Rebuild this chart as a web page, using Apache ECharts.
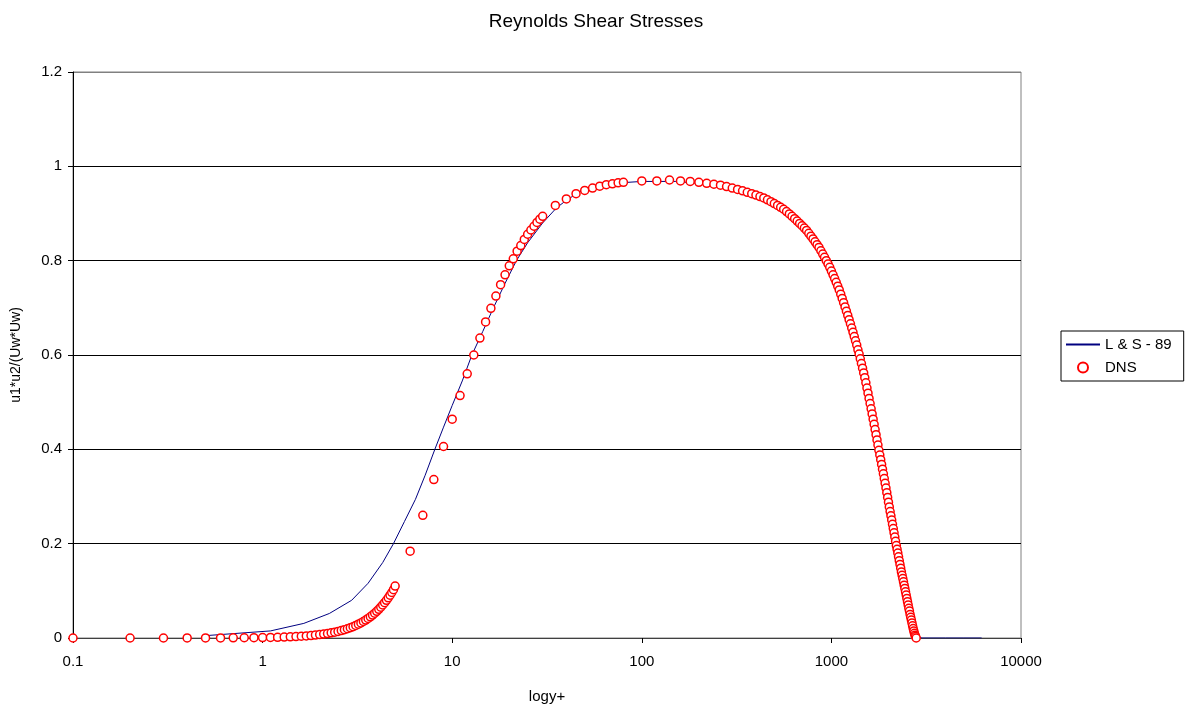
<!DOCTYPE html>
<html>
<head>
<meta charset="utf-8">
<script src="https://cdn.jsdelivr.net/npm/echarts@6/dist/echarts.min.js"></script>
<style>
  html, body { margin: 0; padding: 0; background: #fff; }
  #main { width: 1192px; height: 713px; }
</style>
</head>
<body>
<div id="main"></div>
<script>
// DNS points (y+ and -u1u2 normalised)
const dnsX = [
  0.1, 0.2, 0.3, 0.4, 0.5, 0.6, 0.7, 0.8, 0.9, 1.0,
  1.1, 1.2, 1.3, 1.4, 1.5, 1.6, 1.7, 1.8, 1.9, 2.0,
  2.1, 2.2, 2.3, 2.4, 2.5, 2.6, 2.7, 2.8, 2.9, 3.0,
  3.1, 3.2, 3.3, 3.4, 3.5, 3.6, 3.7, 3.8, 3.9, 4.0,
  4.1, 4.2, 4.3, 4.4, 4.5, 4.6, 4.7, 4.8, 4.9, 5.0,
  6, 7, 8, 9, 10, 11, 12, 13, 14, 15, 16, 17, 18, 19, 20,
  21, 22, 23, 24, 25, 26, 27, 28, 29, 30,
  35, 40, 45, 50, 55, 60, 65, 70, 75, 80,
  100, 120, 140, 160, 180, 200, 220, 240, 260, 280,
  300, 320, 340, 360, 380, 400, 420, 440, 460, 480,
  500, 520, 540, 560, 580, 600, 620, 640, 660, 680,
  700, 720, 740, 760, 780, 800, 820, 840, 860, 880,
  900, 920, 940, 960, 980, 1000, 1020, 1040, 1060, 1080,
  1100, 1120, 1140, 1160, 1180, 1200, 1220, 1240, 1260, 1280,
  1300, 1320, 1340, 1360, 1380, 1400, 1420, 1440, 1460, 1480,
  1500, 1520, 1540, 1560, 1580, 1600, 1620, 1640, 1660, 1680,
  1700, 1720, 1740, 1760, 1780, 1800, 1820, 1840, 1860, 1880,
  1900, 1920, 1940, 1960, 1980, 2000, 2020, 2040, 2060, 2080,
  2100, 2120, 2140, 2160, 2180, 2200, 2220, 2240, 2260, 2280,
  2300, 2320, 2340, 2360, 2380, 2400, 2420, 2440, 2460, 2480,
  2500, 2520, 2540, 2560, 2580, 2600, 2620, 2640, 2660, 2680,
  2700, 2720, 2740, 2760, 2780, 2800
];
const dnsY = [
  0.0000, 0.0000, 0.0000, 0.0001, 0.0001, 0.0002, 0.0003, 0.0005, 0.0007, 0.0009,
  0.0012, 0.0015, 0.0020, 0.0025, 0.0030, 0.0037, 0.0044, 0.0052, 0.0061, 0.0072,
  0.0083, 0.0095, 0.0109, 0.0124, 0.0140, 0.0157, 0.0176, 0.0196, 0.0218, 0.0241,
  0.0266, 0.0292, 0.0320, 0.0350, 0.0381, 0.0414, 0.0449, 0.0486, 0.0525, 0.0566,
  0.0609, 0.0654, 0.0701, 0.0750, 0.0800, 0.0853, 0.0908, 0.0965, 0.1024, 0.1100,
  0.184, 0.260, 0.336, 0.406, 0.464, 0.514, 0.560, 0.600, 0.636, 0.670, 0.699, 0.725, 0.749, 0.770, 0.789,
  0.804, 0.820, 0.832, 0.845, 0.856, 0.865, 0.873, 0.881, 0.888, 0.894,
  0.917, 0.931, 0.942, 0.949, 0.954, 0.958, 0.961, 0.963, 0.965, 0.966,
  0.969, 0.969, 0.971, 0.969, 0.968, 0.966, 0.964, 0.962, 0.960, 0.957,
  0.954, 0.951, 0.948, 0.945, 0.942, 0.939, 0.936, 0.933, 0.929, 0.925,
  0.921, 0.917, 0.913, 0.909, 0.904, 0.899, 0.894, 0.889, 0.884, 0.879,
  0.874, 0.869, 0.864, 0.858, 0.852, 0.846, 0.840, 0.834, 0.828, 0.821,
  0.814, 0.807, 0.800, 0.793, 0.786, 0.778, 0.770, 0.762, 0.754, 0.746,
  0.738, 0.729, 0.720, 0.711, 0.702, 0.693, 0.684, 0.675, 0.666, 0.657,
  0.648, 0.639, 0.630, 0.621, 0.611, 0.602, 0.592, 0.582, 0.572, 0.562,
  0.552, 0.541, 0.530, 0.519, 0.508, 0.497, 0.486, 0.475, 0.464, 0.453,
  0.442, 0.431, 0.420, 0.409, 0.398, 0.388, 0.378, 0.368, 0.358, 0.348,
  0.338, 0.328, 0.318, 0.308, 0.298, 0.288, 0.278, 0.268, 0.259, 0.250,
  0.241, 0.232, 0.223, 0.214, 0.205, 0.196, 0.188, 0.180, 0.172, 0.164,
  0.156, 0.148, 0.140, 0.133, 0.126, 0.119, 0.112, 0.105, 0.098, 0.091,
  0.084, 0.077, 0.070, 0.063, 0.057, 0.050, 0.044, 0.038, 0.032, 0.026,
  0.020, 0.015, 0.010, 0.006, 0.003, 0.000
];

// L & S - 89 curve
const lsX = [
  0.5, 1.1, 1.65, 2.25, 2.95, 3.6, 4.3, 4.9, 5.6, 6.4,
  7.2, 8.1, 9.0, 10, 11.3, 12.7, 14.5, 16.5, 19, 21.8,
  25, 30, 35.5, 40, 47, 55, 70, 100, 150, 200,
  300, 400, 500, 600, 700, 800, 900, 1000, 1100, 1200,
  1300, 1400, 1500, 1600, 1700, 1800, 1900, 2000, 2100, 2200,
  2300, 2400, 2500, 2600, 2700, 2800, 3000, 4000, 5000, 6200
];
const lsY = [
  0.005, 0.015, 0.031, 0.052, 0.080, 0.116, 0.160, 0.200, 0.247, 0.294,
  0.345, 0.400, 0.447, 0.493, 0.545, 0.600, 0.650, 0.700, 0.752, 0.800,
  0.838, 0.880, 0.912, 0.928, 0.946, 0.955, 0.964, 0.968, 0.968, 0.964,
  0.950, 0.934, 0.916, 0.895, 0.872, 0.847, 0.818, 0.785, 0.748, 0.707,
  0.662, 0.613, 0.562, 0.508, 0.452, 0.396, 0.342, 0.291, 0.243, 0.199,
  0.158, 0.120, 0.086, 0.055, 0.028, 0.005, 0.0, 0.0, 0.0, 0.0
];

const seriesNames = ['L & S - 89', 'DNS'];
const font = 'Liberation Sans, Arial, sans-serif';

const chart = echarts.init(document.getElementById('main'));

const option = {
  animation: false,
  backgroundColor: '#fff',
  textStyle: { fontFamily: font },
  title: {
    text: 'Reynolds Shear Stresses',
    left: 'center',
    top: 7,
    textStyle: { fontFamily: font, fontSize: 19, fontWeight: 'normal', color: '#000' }
  },
  legend: {
    orient: 'vertical',
    left: 1061,
    top: 331,
    padding: [6, 12, 6, 4],
    itemGap: 8,
    itemWidth: 34,
    itemHeight: 10,
    borderColor: '#000',
    borderWidth: 1,
    borderRadius: 0,
    textStyle: { fontFamily: font, fontSize: 15, color: '#000' },
    data: [
      { name: seriesNames[0], itemStyle: { opacity: 0 } },
      { name: seriesNames[1] }
    ]
  },
  grid: {
    left: 73,
    right: 171,
    top: 72,
    bottom: 75,
    show: true,
    borderColor: '#808080',
    borderWidth: 1
  },
  xAxis: {
    type: 'log',
    logBase: 10,
    min: 0.1,
    max: 10000,
    name: 'logy+',
    nameLocation: 'middle',
    nameGap: 51,
    nameTextStyle: { fontFamily: font, fontSize: 15, color: '#000' },
    axisLine: { onZero: false, lineStyle: { color: '#404040', width: 1 } },
    axisTick: { show: true, length: 5, lineStyle: { color: '#000' } },
    axisLabel: {
      fontFamily: font, fontSize: 15, color: '#000', margin: 16,
      formatter: function (v) { return String(+v.toPrecision(6)); }
    },
    splitLine: { show: false },
    minorTick: { show: false }
  },
  yAxis: {
    type: 'value',
    min: 0,
    max: 1.2,
    interval: 0.2,
    name: 'u1*u2/(Uw*Uw)',
    nameLocation: 'middle',
    nameRotate: 90,
    nameGap: 50,
    nameTextStyle: { fontFamily: font, fontSize: 14, color: '#000' },
    axisLine: { show: true, lineStyle: { color: '#000', width: 1 } },
    axisTick: { show: true, length: 5, lineStyle: { color: '#000' } },
    axisLabel: {
      fontFamily: font, fontSize: 15, color: '#000', margin: 11,
      formatter: function (v) { return String(+v.toFixed(1)); }
    },
    splitLine: {
      show: true,
      lineStyle: { color: ['#000', '#000', '#000', '#000', '#000', '#000', '#808080'], width: 1 }
    }
  },
  series: [
    {
      name: seriesNames[0],
      type: 'line',
      data: lsX.map((x, i) => [x, lsY[i]]),
      symbol: 'none',
      showSymbol: false,
      smooth: false,
      lineStyle: { color: '#000080', width: 1 },
      itemStyle: { color: '#000080' },
      z: 2
    },
    {
      name: seriesNames[1],
      type: 'scatter',
      data: dnsX.map((x, i) => [x, dnsY[i]]),
      symbol: 'circle',
      symbolSize: 8,
      itemStyle: { color: '#fff', borderColor: '#ff0000', borderWidth: 1.5, opacity: 1 },
      z: 3
    }
  ]
};

chart.setOption(option);
</script>
</body>
</html>
